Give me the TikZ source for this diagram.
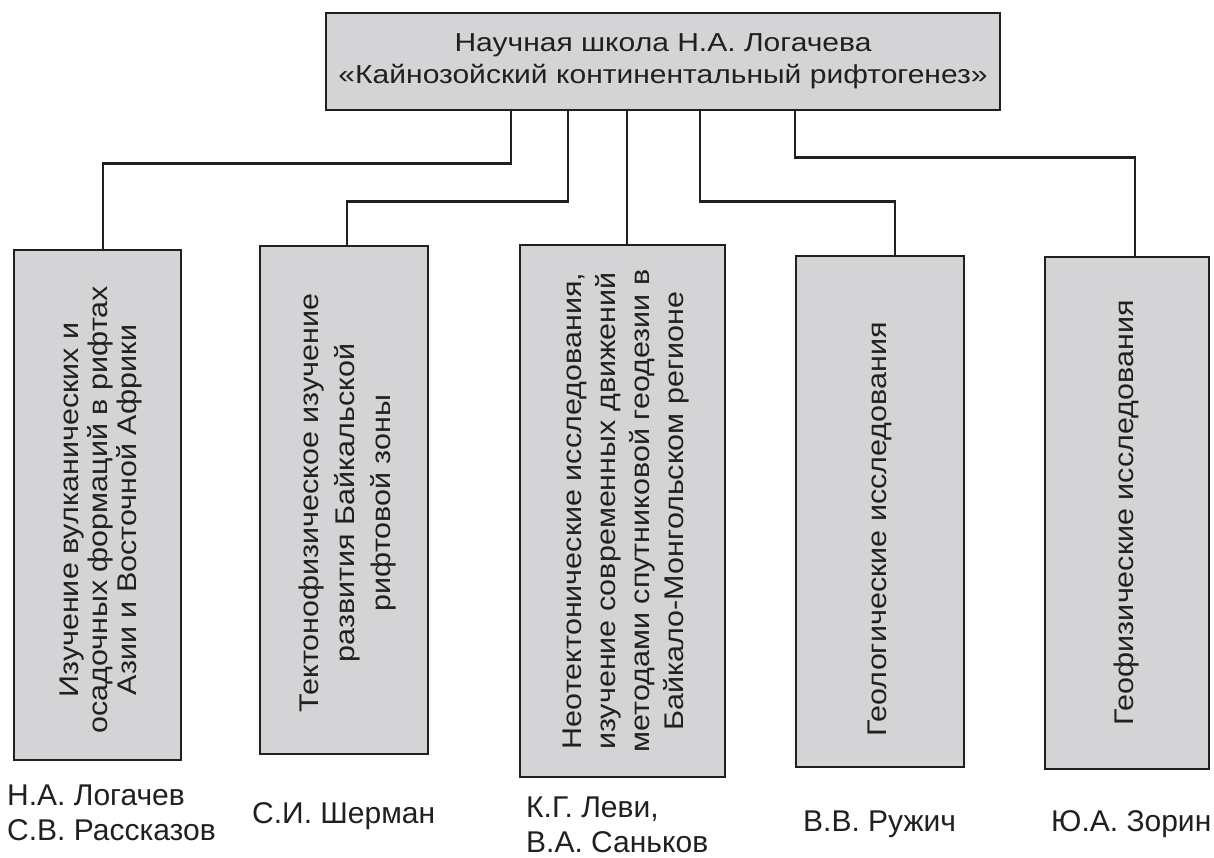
\documentclass[tikz,border=0pt]{standalone}
\usepackage{fontspec}
\setmainfont{Liberation Sans}
\usepackage{graphicx}
\usepackage{tikz}
\definecolor{boxgray}{RGB}{212,211,213}
\definecolor{inkdark}{RGB}{35,31,32}
% rotated, centred lines: [move down the box]{line skip}{nudge right}{lines}
\newcommand{\vtext}[4][0pt]{\rotatebox{90}{\raisebox{-#3}[\height][\depth]{\scalebox{1.13}[1]{\fontsize{27}{#2}\selectfont\begin{tabular}{@{}c@{}}#4\end{tabular}}}\hspace*{#1}}}
\tikzset{
  box/.style={draw=inkdark, fill=boxgray, line width=2.8pt, inner sep=0pt, text=inkdark},
  vbox/.style={box, minimum width=#1},
  conn/.style={draw=inkdark, line width=2.6pt},
  person/.style={anchor=west, inner sep=0pt, align=left, text=inkdark, font=\fontsize{30}{35}\selectfont},
}

\begin{document}
\begin{tikzpicture}[x=1pt,y=1pt,yscale=-1,xscale=1]
\useasboundingbox (0,0) rectangle (1214,857);

%Shape: Rectangle [school]
\node[box, minimum width=674pt, minimum height=97pt] (school) at (663,61.5) {\scalebox{1.155}[1]{\fontsize{26}{32}\selectfont\begin{tabular}{@{}c@{}}Научная школа Н.А. Логачева\\«Кайнозойский континентальный рифтогенез»\end{tabular}}};

%Shape: Rectangle [dir1 .. dir5]
\node[vbox=167pt, minimum height=510pt] (volc) at (97.5,505) {\vtext[10pt]{29pt}{4.5pt}{Изучение вулканических и\\осадочных формаций в рифтах\\Азии и Восточной Африки}};
\node[vbox=168pt, minimum height=508pt] (tect) at (344,500) {\vtext[6pt]{36pt}{3pt}{Тектонофизическое изучение\\развития Байкальской\\рифтовой зоны}};
\node[vbox=205pt, minimum height=532pt] (neot) at (622.5,511) {\vtext{34pt}{3.5pt}{Неотектонические исследования,\\изучение современных движений\\методами спутниковой геодезии в\\Байкало-Монгольском регионе}};
\node[vbox=168pt, minimum height=511pt] (geol) at (880,511.5) {\vtext[36pt]{30pt}{0pt}{Геологические исследования}};
\node[vbox=164pt, minimum height=512pt] (geoph) at (1127,513) {\vtext{30pt}{0pt}{Геофизические исследования}};

%Connectors
\draw[conn] ([xshift=-152]school.south) -- ++(0,52) -| ([xshift=5.5]volc.north);
\draw[conn] ([xshift=-95]school.south) -- ++(0,90) -| ([xshift=3]tect.north);
\draw[conn] ([xshift=-36]school.south) -- ([xshift=4.5]neot.north);
\draw[conn] ([xshift=37]school.south) -- ++(0,90) -| ([xshift=15]geol.north);
\draw[conn] ([xshift=132]school.south) -- ++(0,46) -| ([xshift=8]geoph.north);

% Text Node
\node[person] (p1) at (7,812.5) {Н.А. Логачев\\С.В. Рассказов};
% Text Node
\node[person] (p2) at (252,816) {С.И. Шерман};
% Text Node
\node[person] (p3) at (526,825) {К.Г. Леви,\\В.А. Саньков};
% Text Node
\node[person] (p4) at (803,824) {В.В. Ружич};
% Text Node
\node[person] (p5) at (1051,824) {Ю.А. Зорин};

\end{tikzpicture}
\end{document}
